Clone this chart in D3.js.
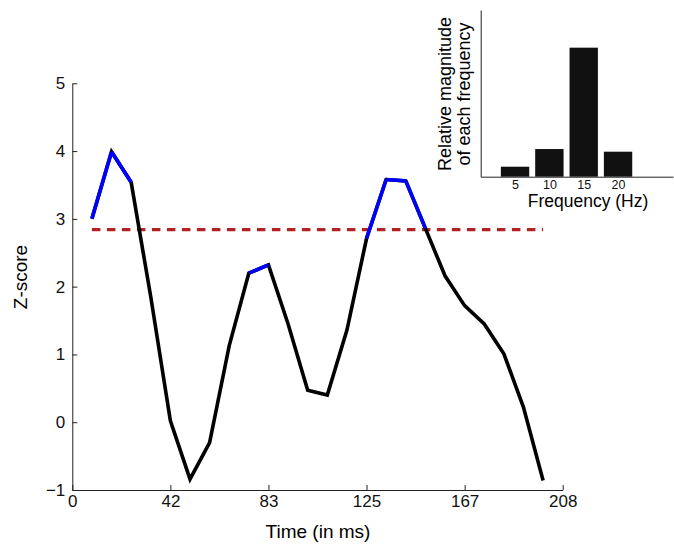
<!DOCTYPE html>
<html>
<head>
<meta charset="utf-8">
<script src="https://cdn.jsdelivr.net/npm/d3@7"></script>
<style>
  body { margin: 0; background: #fff; }
  svg { display: block; font-family: "Liberation Sans", Arial, Helvetica, sans-serif; }
  .axis path, .axis line { stroke: #222; stroke-width: 1; }
  .axis text { fill: #111; }
</style>
</head>
<body>
<svg id="chart"></svg>
<script>
// Main series: z-score over time, sampled every 8.33 ms
const timesMs = [8.33, 16.67, 25, 33.33, 41.67, 50, 58.33, 66.67, 75, 83.33, 91.67, 100,
                 108.33, 116.67, 125, 133.33, 141.67, 150, 158.33, 166.67, 175, 183.33, 191.67, 200];
const zScores = [3.0, 3.99, 3.54, 1.85, 0.02, -0.84, -0.3, 1.13, 2.2, 2.32, 1.45, 0.47,
                 0.4, 1.36, 2.71, 3.58, 3.56, 2.86, 2.16, 1.72, 1.45, 1.01, 0.22, -0.86];
// 1 = significant point (segments between two flagged points are drawn in blue)
const significant = [1, 1, 1, 0, 0, 0, 0, 0, 1, 1, 0, 0, 0, 0, 1, 1, 1, 1, 0, 0, 0, 0, 0, 0];
const threshold = 2.84;

const xTickValues = [0, 41.67, 83.33, 125, 166.67, 208.33];
const xTickLabels = ['0', '42', '83', '125', '167', '208'];
const yTickValues = [-1, 0, 1, 2, 3, 4, 5];

// Inset: relative magnitude of each frequency
const freqs = [5, 10, 15, 20];
const magnitudes = [0.06, 0.166, 0.774, 0.15];

const width = 674;
const height = 544;

const svg = d3.select('#chart')
    .attr('width', width)
    .attr('height', height);

// Main scales
const x = d3.scaleLinear().domain([0, 208.33]).range([72.3, 562.7]);
const y = d3.scaleLinear().domain([-1, 5]).range([490, 83.3]);

// Axes (ticks pointing inward, MATLAB style)
svg.append('g')
    .attr('class', 'axis')
    .attr('transform', `translate(0,${y(-1)})`)
    .call(d3.axisBottom(x)
        .tickValues(xTickValues)
        .tickFormat((d, i) => xTickLabels[i])
        .tickSizeInner(-5)
        .tickSizeOuter(0)
        .tickPadding(5))
    .call(g => g.selectAll('text').attr('font-size', 17));

svg.append('g')
    .attr('class', 'axis')
    .attr('transform', `translate(${x(0)},0)`)
    .call(d3.axisLeft(y)
        .tickValues(yTickValues)
        .tickFormat(d => d < 0 ? '\u2212' + Math.abs(d) : d)
        .tickSizeInner(-5)
        .tickSizeOuter(0)
        .tickPadding(7))
    .call(g => g.selectAll('text').attr('font-size', 17));

svg.selectAll('.domain').attr('stroke', '#222');

// Axis labels
svg.append('text')
    .attr('x', 318)
    .attr('y', 538)
    .attr('text-anchor', 'middle')
    .attr('font-size', 19)
    .attr('fill', '#000')
    .text('Time (in ms)');

svg.append('text')
    .attr('transform', 'translate(27,277) rotate(-90)')
    .attr('text-anchor', 'middle')
    .attr('font-size', 19)
    .attr('fill', '#000')
    .text('Z-score');

// Threshold
svg.append('line')
    .attr('x1', x(timesMs[0]))
    .attr('x2', x(timesMs[timesMs.length - 1]))
    .attr('y1', y(threshold))
    .attr('y2', y(threshold))
    .attr('stroke', '#b22222')
    .attr('stroke-width', 3.3)
    .attr('stroke-dasharray', '8.5,6.5');

const points = timesMs.map((t, i) => ({ t, z: zScores[i], sig: significant[i] }));

const line = d3.line()
    .x(d => x(d.t))
    .y(d => y(d.z));

// Full trace in black
svg.append('path')
    .datum(points)
    .attr('fill', 'none')
    .attr('stroke', '#000')
    .attr('stroke-width', 3.6)
    .attr('d', line);

// Significant segments in blue
const segments = [];
for (let i = 0; i < points.length - 1; i++) {
    if (points[i].sig && points[i + 1].sig) segments.push([points[i], points[i + 1]]);
}
svg.selectAll('.sig')
    .data(segments)
    .enter()
    .append('path')
    .attr('class', 'sig')
    .attr('fill', 'none')
    .attr('stroke', '#0000ff')
    .attr('stroke-width', 3.6)
    .attr('stroke-linecap', 'butt')
    .attr('d', line);

// Inset bar chart
const ix = d3.scaleLinear().domain([0, 28]).range([480.7, 673]);
const iy = d3.scaleLinear().domain([0, 1]).range([176.7, 10]);
const barW = ix(4.13) - ix(0);

svg.selectAll('.bar')
    .data(freqs)
    .enter()
    .append('rect')
    .attr('class', 'bar')
    .attr('x', d => ix(d) - barW / 2)
    .attr('y', (d, i) => iy(magnitudes[i]))
    .attr('width', barW)
    .attr('height', (d, i) => iy(0) - iy(magnitudes[i]))
    .attr('fill', '#111');

svg.append('g')
    .attr('class', 'axis')
    .attr('transform', `translate(0,${iy(0)})`)
    .call(d3.axisBottom(ix)
        .tickValues(freqs)
        .tickSize(0)
        .tickPadding(3))
    .call(g => g.selectAll('text').attr('font-size', 12.5));

svg.append('g')
    .attr('class', 'axis')
    .attr('transform', `translate(${ix(0)},0)`)
    .call(d3.axisLeft(iy).tickValues([]).tickSize(0));

svg.append('text')
    .attr('x', 588)
    .attr('y', 207)
    .attr('text-anchor', 'middle')
    .attr('font-size', 17.5)
    .attr('fill', '#000')
    .text('Frequency (Hz)');

const insetLabel = svg.append('text')
    .attr('transform', 'translate(451,94) rotate(-90)')
    .attr('text-anchor', 'middle')
    .attr('font-size', 18)
    .attr('fill', '#000');
insetLabel.append('tspan').attr('x', 0).attr('dy', 0).text('Relative magnitude');
insetLabel.append('tspan').attr('x', 0).attr('dy', 19).text('of each frequency');
</script>
</body>
</html>
